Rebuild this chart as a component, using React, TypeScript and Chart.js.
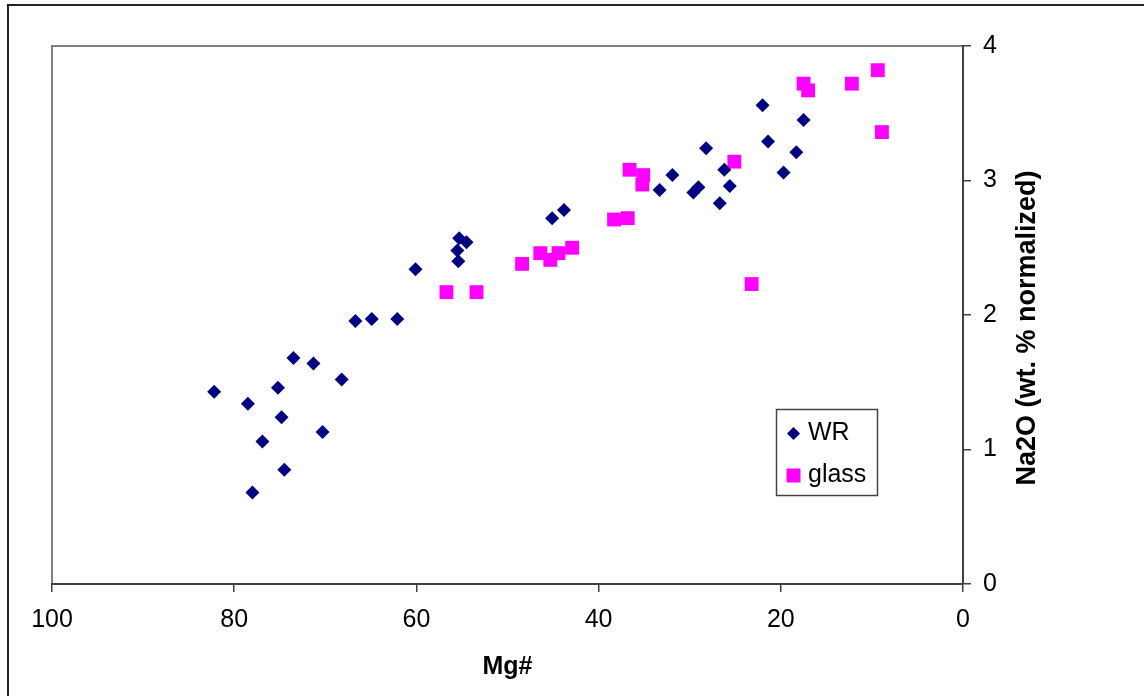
import React, { useEffect, useRef } from "react";
import { Chart, registerables } from "chart.js";

Chart.register(...registerables);

// ---- Data ----
const seriesNames = ["WR", "glass"];

const wrMg = [
  82.2, 78.5, 78.0, 76.9, 75.2, 74.8, 74.5, 73.5, 71.3, 70.3, 68.2, 66.7, 64.9,
  62.1, 60.1, 55.3, 54.5, 55.5, 55.4, 45.1, 43.8, 33.3, 31.9, 29.6, 29.05, 28.2,
  26.7, 26.2, 25.6, 22.0, 21.4, 19.7, 18.3, 17.5,
];
const wrNa2O = [
  1.43, 1.34, 0.68, 1.06, 1.46, 1.24, 0.85, 1.68, 1.64, 1.13, 1.52, 1.955, 1.97,
  1.97, 2.34, 2.57, 2.54, 2.48, 2.4, 2.72, 2.78, 2.93, 3.04, 2.91, 2.95, 3.24,
  2.83, 3.08, 2.96, 3.56, 3.29, 3.06, 3.21, 3.45,
];

const glassMg = [
  56.7, 53.4, 48.4, 46.4, 45.3, 44.4, 42.9, 38.3, 36.8, 36.6, 35.1, 35.2, 25.1,
  23.2, 17.5, 17.0, 12.2, 9.35, 8.9,
];
const glassNa2O = [
  2.17, 2.17, 2.38, 2.46, 2.41, 2.46, 2.5, 2.71, 2.72, 3.08, 3.04, 2.97, 3.14,
  2.23, 3.72, 3.67, 3.72, 3.82, 3.36,
];

const xTickValues = [100, 80, 60, 40, 20, 0];
const yTickValues = [0, 1, 2, 3, 4];
const xTitle = "Mg#";
const yTitle = "Na2O (wt. % normalized)";

const FONT = "'Liberation Sans', Arial, Helvetica, sans-serif";
const WR_COLOR = "#000080";
const GLASS_COLOR = "#FF00FF";

const toPoints = (xs: number[], ys: number[]) =>
  xs.map((x, i) => ({ x, y: ys[i] }));

const decorPlugin = {
  id: "decor",
  beforeDraw(chart: any) {
    const ctx = chart.ctx as CanvasRenderingContext2D;
    const a = chart.chartArea;
    ctx.save();
    ctx.fillStyle = "#ffffff";
    ctx.fillRect(0, 0, chart.width, chart.height);
    // outer frame (left and top)
    ctx.strokeStyle = "#222222";
    ctx.lineWidth = 2;
    ctx.beginPath();
    ctx.moveTo(8, chart.height + 2);
    ctx.lineTo(8, 5);
    ctx.lineTo(chart.width + 2, 5);
    ctx.stroke();
    // plot frame top/left (gray)
    ctx.strokeStyle = "#808080";
    ctx.lineWidth = 2;
    ctx.beginPath();
    ctx.moveTo(a.left, a.bottom);
    ctx.lineTo(a.left, a.top);
    ctx.lineTo(a.right, a.top);
    ctx.stroke();
    ctx.restore();
  },
  afterDraw(chart: any) {
    const ctx = chart.ctx as CanvasRenderingContext2D;
    const a = chart.chartArea;
    ctx.save();
    // axis titles
    ctx.fillStyle = "#000";
    ctx.textAlign = "center";
    ctx.textBaseline = "middle";
    ctx.font = `bold 25px ${FONT}`;
    ctx.fillText(xTitle, (a.left + a.right) / 2, 667);
    ctx.save();
    ctx.translate(1028, 328);
    ctx.rotate(-Math.PI / 2);
    ctx.font = `bold 27px ${FONT}`;
    ctx.fillText(yTitle, 0, 0);
    ctx.restore();

    // legend
    const lx = 776.5;
    const ly = 409.5;
    ctx.strokeStyle = "#444";
    ctx.lineWidth = 1.5;
    ctx.fillStyle = "#fff";
    ctx.fillRect(lx, ly, 101, 86);
    ctx.strokeRect(lx, ly, 101, 86);
    // WR diamond
    const dx = 793.5;
    const dy1 = 433.5;
    const r = 6.5;
    ctx.fillStyle = WR_COLOR;
    ctx.beginPath();
    ctx.moveTo(dx - r, dy1);
    ctx.lineTo(dx, dy1 - r);
    ctx.lineTo(dx + r, dy1);
    ctx.lineTo(dx, dy1 + r);
    ctx.closePath();
    ctx.fill();
    // glass square
    const dy2 = 475.5;
    ctx.fillStyle = GLASS_COLOR;
    ctx.fillRect(dx - 7, dy2 - 7, 14, 14);
    // texts
    ctx.fillStyle = "#000";
    ctx.textAlign = "left";
    ctx.textBaseline = "middle";
    ctx.font = `25px ${FONT}`;
    ctx.fillText(seriesNames[0], 808, dy1);
    ctx.fillText(seriesNames[1], 808, dy2);
    ctx.restore();
  },
};

export default function App() {
  const canvasRef = useRef<HTMLCanvasElement | null>(null);

  useEffect(() => {
    if (!canvasRef.current) return;
    const chart = new Chart(canvasRef.current, {
      type: "scatter",
      data: {
        datasets: [
          {
            label: seriesNames[0],
            data: toPoints(wrMg, wrNa2O),
            pointStyle: "rectRot",
            pointRadius: 7,
            pointHoverRadius: 7,
            backgroundColor: WR_COLOR,
            borderColor: WR_COLOR,
            borderWidth: 0,
          },
          {
            label: seriesNames[1],
            data: toPoints(glassMg, glassNa2O),
            pointStyle: "rect",
            pointRadius: 9.8,
            pointHoverRadius: 9.8,
            backgroundColor: GLASS_COLOR,
            borderColor: GLASS_COLOR,
            borderWidth: 0,
          },
        ],
      },
      options: {
        animation: false,
        responsive: false,
        events: [],
        layout: { padding: { left: 52, top: 46, right: 0, bottom: 0 } },
        plugins: {
          legend: { display: false },
          tooltip: { enabled: false },
        },
        scales: {
          x: {
            type: "linear",
            reverse: true,
            min: 0,
            max: 100,
            afterFit: (s: any) => {
              s.height = 112;
            },
            afterBuildTicks: (s: any) => {
              s.ticks = xTickValues.map((v) => ({ value: v }));
            },
            ticks: {
              color: "#000",
              font: { family: FONT, size: 25 },
              padding: 13,
              maxRotation: 0,
            },
            grid: {
              display: true,
              drawOnChartArea: false,
              drawTicks: true,
              tickLength: 8,
              color: "#404040",
              lineWidth: 1.5,
            },
            border: { display: true, color: "#404040", width: 2 },
          },
          y: {
            type: "linear",
            position: "right",
            min: 0,
            max: 4,
            afterFit: (s: any) => {
              s.width = 181;
            },
            afterBuildTicks: (s: any) => {
              s.ticks = yTickValues.map((v) => ({ value: v }));
            },
            ticks: {
              color: "#000",
              font: { family: FONT, size: 25 },
              padding: 12,
            },
            grid: {
              display: true,
              drawOnChartArea: false,
              drawTicks: true,
              tickLength: 8,
              color: "#404040",
              lineWidth: 1.5,
            },
            border: { display: true, color: "#404040", width: 2 },
          },
        },
      },
      plugins: [decorPlugin],
    } as any);
    return () => chart.destroy();
  }, []);

  return (
    <div style={{ position: "absolute", left: 0, top: 0, width: 1144, height: 696 }}>
      <canvas
        ref={canvasRef}
        width={1144}
        height={696}
        style={{ display: "block", width: 1144, height: 696 }}
      />
    </div>
  );
}
